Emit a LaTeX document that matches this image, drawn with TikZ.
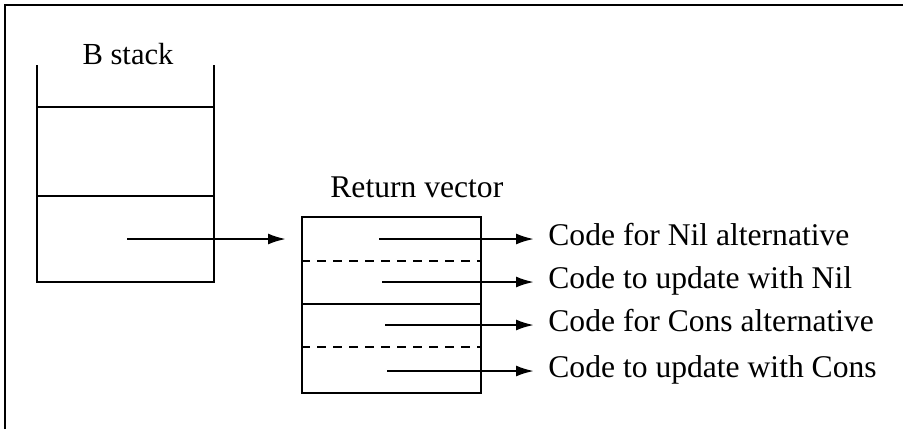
\documentclass[tikz,border=0pt]{standalone}
\usepackage{fontspec}
\setmainfont{Liberation Serif}
\usetikzlibrary{arrows.meta}
\tikzset{
  ln/.style={line width=1.15pt},
  frameline/.style={line width=1.4pt},
  dash line/.style={line width=1.15pt, dash pattern=on 4.5pt off 3.5pt},
  arr/.style={line width=1.15pt, -{Latex[length=9pt,width=5.5pt]}},
  lbl/.style={font=\fontsize{15.8pt}{19pt}\selectfont, inner sep=0pt},
  codelbl/.style={font=\fontsize{15.8pt}{19pt}\selectfont, anchor=west, inner xsep=7pt, inner ysep=0pt, text height=0.662em, text depth=0pt},
}
\begin{document}
\begin{tikzpicture}[x=0.5pt,y=-0.5pt]
\useasboundingbox (0,0) rectangle (903,429);
% frame (only top and left edges visible)
\draw[frameline] (5,429) -- (5,5) -- (903,5);
% B stack
\draw[ln] (37,65) -- (37,282) -- (214,282) -- (214,65);
\draw[ln] (37,107) -- (214,107);
\draw[ln] (37,196) -- (214,196);
\node[lbl, font=\fontsize{15.3pt}{18pt}\selectfont, anchor=base] (bstack) at (128,64) {B stack};
% Return vector
\node[ln, draw, anchor=north west, inner sep=0pt, minimum width=89.5pt, minimum height=88pt] (rv) at (301,216) {};
\node[lbl, anchor=base west] (rvlbl) at (330,197) {Return vector};
\draw[dash line] (301,261) -- (480,261);
\draw[ln] (301,304) -- (480,304);
\draw[dash line] (301,347) -- (480,347);
% pointer from B stack
\coordinate (bp) at (127,239);
\coordinate (bq) at (286,239);
\draw[arr] (bp) -- (bq);
% entries
\node[codelbl] (t1) at (534,239) {Code for Nil alternative};
\node[codelbl] (t2) at (534,282) {Code to update with Nil};
\node[codelbl] (t3) at (534,325) {Code for Cons alternative};
\node[codelbl] (t4) at (534,371) {Code to update with Cons};
\coordinate (s1) at (379,239);
\coordinate (s2) at (382,282);
\coordinate (s3) at (385,325);
\coordinate (s4) at (387,371);
\draw[arr] (s1) -- (t1.west);
\draw[arr] (s2) -- (t2.west);
\draw[arr] (s3) -- (t3.west);
\draw[arr] (s4) -- (t4.west);
\end{tikzpicture}
\end{document}
